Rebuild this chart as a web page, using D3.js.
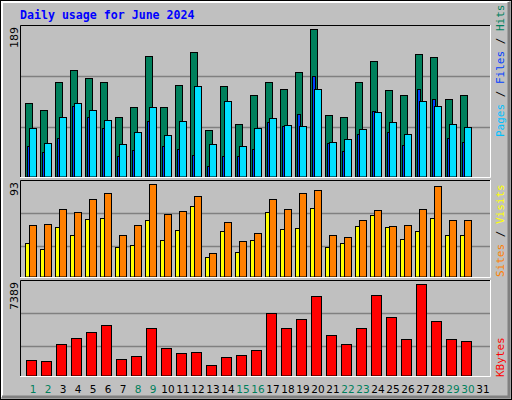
<!DOCTYPE html>
<html><head><meta charset="utf-8">
<script src="https://cdn.jsdelivr.net/npm/d3@7"></script>
<style>body{margin:0;background:#fff}</style></head>
<body><svg id="c" width="512" height="400"></svg>
<script>
const days = d3.range(1, 32);
const weekend = [1,2,8,9,15,16,22,23,29,30];
const hits  = [93,84,118,133,123,119,75,88,151,88,115,156,59,114,67,102,119,110,131,184,78,75,119,145,109,103,153,150,98,102];
const files = [62,43,75,93,84,72,42,57,88,53,70,114,42,95,39,62,74,66,64,110,44,48,61,82,69,54,95,89,67,63];
const pages = [39,32,49,89,75,62,27,34,70,39,36,28,15,27,27,36,69,64,79,126,43,33,54,83,57,41,110,98,49,44];
const visits = [34,28,49,41,56,57,30,32,55,37,46,69,21,45,25,37,63,47,48,67,30,34,50,60,49,38,45,57,41,41];
const sites  = [51,52,66,63,75,81,41,51,89,61,64,78,24,54,36,43,75,66,81,84,41,39,55,65,50,51,66,87,55,55];
const kbytes = [1418,1343,2612,3060,3508,4030,1493,1717,3806,2314,1941,2015,1045,1642,1791,2165,4926,3806,4478,6195,3284,2612,3806,6270,4628,2986,7091,4329,2986,2836];
const maxLabels = ["189","93","7389"];

const svg = d3.select("#c");
svg.append("rect").attr("x",0).attr("y",0).attr("width",512).attr("height",400).attr("fill","#C0C0C0");
// 3D borders
svg.append("rect").attr("x",0.5).attr("y",0.5).attr("width",511).attr("height",399).attr("fill","none").attr("stroke","#000");
svg.append("path").attr("d","M2,397V2H509").attr("stroke","#fff").attr("stroke-width",2).attr("fill","none");
svg.append("path").attr("d","M509,2V397H2").attr("stroke","#808080").attr("stroke-width",3).attr("fill","none");

const x = d3.scaleLinear().domain([1,31]).range([25,475]);
const panels = [
  {top:25, bottom:177, H:153, max:189},
  {top:180, bottom:277, H:99, max:93},
  {top:280, bottom:376, H:99, max:7389}
];
const L=20, R=490;
panels.forEach((p,i)=>{
  p.y = d3.scaleLinear().domain([0,p.max]).range([p.top+p.H, p.top]);
  svg.append("rect").attr("x",L).attr("y",p.top).attr("width",R-L).attr("height",p.bottom-p.top).attr("fill","#C0C0C0");
  [1,2].forEach(k=>{
    const gy = Math.round(p.top + p.H*k/3)+0.5;
    svg.append("line").attr("x1",L).attr("x2",R).attr("y1",gy).attr("y2",gy).attr("stroke","#808080").attr("stroke-width",1.5);
  });
  svg.append("text").attr("transform",`translate(18,${p.top+2}) rotate(-90)`).attr("text-anchor","end")
    .attr("font-family","DejaVu Sans").attr("font-size",11).attr("fill","#000").text(maxLabels[i]);
});

function bars(pi, data, dx, w, fill){
  const p = panels[pi];
  svg.append("g").selectAll("rect").data(data).join("rect")
    .attr("x",(d,i)=>x(i+1)+dx+0.5).attr("width",w)
    .attr("y",d=>Math.round(p.y(d))+0.5).attr("height",d=>p.bottom-Math.round(p.y(d))-0.5)
    .attr("fill",fill).attr("stroke","#000").attr("stroke-width",1);
}
bars(0,hits,0,7,"#00805C");
bars(0,pages,2,3,"#0040FF");
bars(0,files,4,7,"#00E0FF");
bars(1,visits,0,4,"#FFFF00");
bars(1,sites,4,7,"#FF8000");
bars(2,kbytes,1,10,"#FF0000");

// frames
panels.forEach(p=>{
  svg.append("path").attr("d",`M${L+0.5},${p.bottom}V${p.top+0.5}H${R}`).attr("stroke","#000").attr("fill","none");
  svg.append("path").attr("d",`M${L},${p.bottom+0.5}H${R+0.5}V${p.top}`).attr("stroke","#fff").attr("fill","none");
});

svg.append("text").attr("x",20).attr("y",19).attr("font-family","DejaVu Sans Mono").attr("font-weight","bold")
  .attr("font-size",11.6).attr("fill","#0000FF").text("Daily usage for June 2024");

svg.append("g").selectAll("text").data(days).join("text")
  .attr("x",d=>x(d)+8).attr("y",393).attr("text-anchor","middle")
  .attr("font-family","DejaVu Sans").attr("font-size",10.5)
  .attr("fill",d=>weekend.includes(d)?"#00805C":"#000").text(d=>d);

function sideLabel(yb, parts){
  const t = svg.append("text").attr("transform",`translate(504,${yb}) rotate(-90)`)
    .attr("font-family","DejaVu Sans Mono").attr("font-size",11);
  parts.forEach(([s,c])=>t.append("tspan").attr("fill",c).text(s));
}
sideLabel(137,[["Pages","#00C0FF"],[" / ","#000"],["Files","#0040FF"],[" / ","#000"],["Hits","#00805C"]]);
sideLabel(277,[["Sites","#FF8000"],[" / ","#000"],["Visits","#FFFF00"]]);
sideLabel(377,[["KBytes","#FF0000"]]);
</script></body></html>
